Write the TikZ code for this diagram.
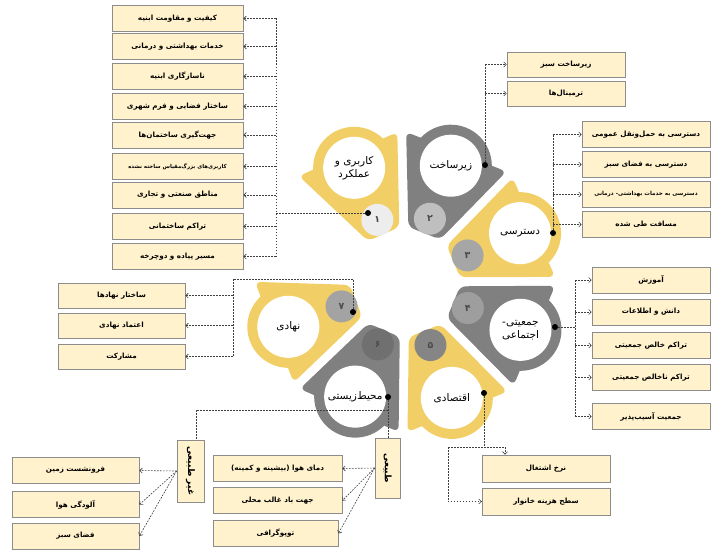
\documentclass[tikz,border=0pt]{standalone}
\usepackage{fontspec}
\usetikzlibrary{arrows.meta,calc}
\TeXXeTstate=1
\newfontfamily\fa[Script=Arabic]{DejaVu Sans}
\newcommand{\fatext}[1]{{\fa\beginR#1\endR}}
\definecolor{gearyellow}{RGB}{242,206,102}
\definecolor{geargray}{RGB}{128,128,128}
\definecolor{boxfill}{RGB}{255,242,204}
\definecolor{boxline}{RGB}{140,140,140}
\definecolor{disc1}{RGB}{237,237,237}
\definecolor{disc2}{RGB}{191,191,191}
\definecolor{disc3}{RGB}{166,166,166}
\definecolor{disc4}{RGB}{158,158,158}
\definecolor{disc5}{RGB}{133,133,133}
\definecolor{disc6}{RGB}{112,112,112}
\definecolor{disc7}{RGB}{163,163,163}
\tikzset{
  pics/gear/.style args={#1/#2}{
    code = {
      \begin{scope}[rotate=#1]
        \fill[#2,rounded corners=6pt] (52.5,-17.1) -- (140,-53.9) -- (140,53.9) -- (52.5,17.1) -- cycle;
        \fill[#2] (125,0) circle[radius=41];
        \fill[white] (125,0) circle[radius=31];
      \end{scope}
    }
  },
  item/.style={draw=boxline,line width=0.8pt,fill=boxfill,minimum height=26pt,inner sep=1pt,font=\fontsize{7.2}{9}\selectfont\bfseries},
  link/.style={draw=black!75,line width=0.6pt,dash pattern=on 1.8pt off 1.2pt},
  dot/.style={circle,fill=black,inner sep=0pt,minimum size=6pt},
  numdisc/.style={circle,inner sep=0pt,minimum size=32pt,font=\fontsize{9.5}{9}\selectfont\bfseries,text=black!70},
  gearlabel/.style={align=center,font=\fontsize{10.5}{13}\selectfont},
  sidetext/.style={rotate=-90,font=\fontsize{9}{9}\selectfont\bfseries},
}

\begin{document}
\begin{tikzpicture}[>={Straight Barb[length=2.5pt,width=5pt]},x=1pt,y=1pt]
\useasboundingbox (0,0) rectangle (711,-551);
\coordinate (hub) at (405,-282);
% the seven gears
\foreach \ang/\col/\disc/\num/\lbl [count=\k] in {
  114/gearyellow/disc1/۱/{\fatext{کاربری و}\\\fatext{عملکرد}},
  68.5/geargray/disc2/۲/{\fatext{زیرساخت}},
  23/gearyellow/disc3/۳/{\fatext{دسترسی}},
  -22.5/geargray/disc4/۴/{\fatext{جمعیتی-}\\\fatext{اجتماعی}},
  -68/gearyellow/disc5/۵/{\fatext{اقتصادی}},
  -113.5/geargray/disc6/۶/{\fatext{محیط‌زیستی}},
  -159/gearyellow/disc7/۷/{\fatext{نهادی}}} {
  \pic at (hub) {gear=\ang/\col};
  \node[numdisc,fill=\disc] (n\k) at ($(hub)+(\ang:68)$) {\fatext{\num}};
  \node[gearlabel] (g\k) at ($(hub)+(\ang:125)$) {\lbl};
}
\foreach \p [count=\k] in {(368,-213),(485,-165),(553,-233),(555,-327),(484,-393),(388,-397),(353,-312)}
  \node[dot] (d\k) at \p {};

% land use
\foreach \y/\txt [count=\i] in {18.5/کیفیت و مقاومت ابنیه, 46.5/خدمات بهداشتی و درمانی,
  76.5/ناسازگاری ابنیه, 106.5/ساختار فضایی و فرم شهری, 135/جهت‌گیری ساختمان‌ها,
  166.5/{\fontsize{5.4}{7}\selectfont کاربری‌های بزرگ‌مقیاس ساخته نشده}, 195/مناطق صنعتی و تجاری,
  226.5/تراکم ساختمانی, 256.5/مسیر پیاده و دوچرخه}
  \node[item,minimum width=131pt] (use\i) at (177.5,-\y) {\fatext{\txt}};
\coordinate (ta) at (276,-213);
\draw[link] (d1) -- (ta);
\draw[link] (use1 -| ta) -- (use9 -| ta);
\foreach \i in {1,...,9} \draw[link,->] (use\i -| ta) -- (use\i.east);

% infrastructure
\foreach \y/\txt [count=\i] in {64.5/زیرساخت سبز, 93.5/ترمینال‌ها}
  \node[item,minimum width=118pt,minimum height=25pt] (inf\i) at (566,-\y) {\fatext{\txt}};
\draw[link] (d2) -- (inf1 -| d2);
\foreach \i in {1,2} \draw[link,->] (inf\i -| d2) -- (inf\i.west);

% access
\foreach \y/\txt [count=\i] in {134.5/دسترسی به حمل‌ونقل عمومی, 164.5/دسترسی به فضای سبز,
  194.5/{\fontsize{5.6}{7}\selectfont دسترسی به خدمات بهداشتی- درمانی}, 224.5/مسافت طی شده}
  \node[item,minimum width=128pt] (acc\i) at (646,-\y) {\fatext{\txt}};
\draw[link] (d3) -- (acc1 -| d3);
\foreach \i in {1,...,4} \draw[link,->] (acc\i -| d3) -- (acc\i.west);

% socio-cultural
\foreach \y/\txt [count=\i] in {280/آموزش, 312/دانش و اطلاعات, 345.5/تراکم خالص جمعیتی,
  377.5/تراکم ناخالص جمعیتی, 416.5/جمعیت آسیب‌پذیر}
  \node[item,minimum width=118pt] (soc\i) at (651,-\y) {\fatext{\txt}};
\coordinate (ts) at (575,-327);
\draw[link] (d4) -- (ts);
\draw[link] (soc1 -| ts) -- (soc5 -| ts);
\foreach \i in {1,...,5} \draw[link,->] (soc\i -| ts) -- (soc\i.west);

% economic
\node[item,minimum width=128pt,minimum height=27pt] (eco1) at (546,-468.5) {\fatext{نرخ اشتغال}};
\node[item,minimum width=128pt,minimum height=27pt] (eco2) at (546,-501.5) {\fatext{سطح هزینه خانوار}};
\coordinate (j5) at (484,-447);
\coordinate (j5l) at (448,-447);
\coordinate (j5r) at (505,-447);
\draw[link] (d5) -- (j5);
\draw[link] (j5l) -- (j5r);
\draw[link,->] (j5r) -- (j5r |- eco1.north);
\draw[link,->] (j5l) |- (eco2.west);

% environmental
\node[item,minimum width=25pt,minimum height=60pt] (nb) at (387.5,-468) {};
\node[sidetext] (nbt) at (nb) {\fatext{طبیعی}};
\node[item,minimum width=27pt,minimum height=62pt] (ab) at (190.5,-471) {};
\node[sidetext] (abt) at (ab) {\fatext{غیر طبیعی}};
\foreach \y/\w/\txt [count=\i] in {468.5/129/دمای هوا (بیشینه و کمینه), 500.5/129/جهت باد غالب محلی, 533.5/125/توپوگرافی}
  \node[item,minimum width=\w pt] (nat\i) at (213+\w/2,-\y) {\fatext{\txt}};
\foreach \y/\txt [count=\i] in {470.5/فرونشست زمین, 504.5/آلودگی هوا, 536/فضای سبز}
  \node[item,minimum width=127pt] (art\i) at (75.5,-\y) {\fatext{\txt}};
\coordinate (j6) at (388,-410);
\draw[link] (d6) -- (d6 |- nb.north);
\draw[link] (j6) -| ($(ab.north)+(5.5,0)$);
\foreach \i in {1,2,3} {
  \draw[link,->] (nb.west) -- (nat\i.east);
  \draw[link,->] (ab.west) -- (art\i.east);
}

% institutional
\foreach \y/\txt [count=\i] in {295.5/ساختار نهادها, 325.5/اعتماد نهادی, 356.5/مشارکت}
  \node[item,minimum width=127pt,minimum height=25pt] (ins\i) at (121.5,-\y) {\fatext{\txt}};
\coordinate (j7) at (353,-279);
\coordinate (ti) at (233,-279);
\draw[link] (d7) -- (j7) -- (ti) -- (ti |- ins3);
\foreach \i in {1,2,3} \draw[link,->] (ins\i -| ti) -- (ins\i.east);
\end{tikzpicture}
\end{document}
